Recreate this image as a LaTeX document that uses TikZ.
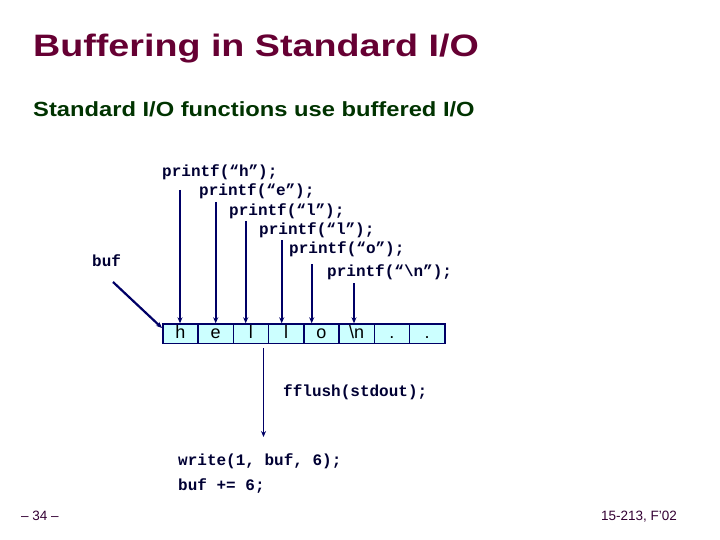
\documentclass[tikz,border=0pt]{standalone}
\usepackage{fontspec}
\setmainfont{Liberation Sans}
\newfontfamily\codefont{Liberation Mono}
\usetikzlibrary{arrows.meta}
\definecolor{titlecol}{HTML}{660033}
\definecolor{subcol}{HTML}{003300}
\definecolor{navy}{HTML}{000066}
\definecolor{codecol}{HTML}{000033}
\definecolor{cellfill}{HTML}{CCFFFF}
\definecolor{footcol}{HTML}{330033}
\tikzset{
  code/.style={anchor=base west, inner sep=0pt, text=codecol, font=\codefont\bfseries\fontsize{16}{18}\selectfont},
  arr/.style={draw=navy, line width=1.6pt, -{Stealth[length=6pt,width=5pt]}},
  cell/.style={draw=navy, line width=1.5pt, fill=cellfill, minimum width=35.25pt, minimum height=19.5pt, inner sep=0pt, anchor=north west, text height=12pt, text depth=2pt, font=\fontsize{18}{18}\selectfont},
  foot/.style={anchor=base west, inner sep=0pt, text=footcol, font=\fontsize{13.5}{15}\selectfont}
}
\begin{document}
\begin{tikzpicture}[x=1pt,y=-1pt]
\useasboundingbox (0,0) rectangle (720,540);
\node[anchor=base west, inner sep=0pt, text=titlecol, font=\bfseries\fontsize{31}{34}\selectfont] (title) at (33,57) {\scalebox{1.215}[1]{Buffering in Standard I/O}};
\node[anchor=base west, inner sep=0pt, text=subcol, font=\bfseries\fontsize{20.5}{24}\selectfont] (sub) at (33,117) {\scalebox{1.157}[1]{Standard I/O functions use buffered I/O}};
% code labels
\node[code] (p1) at (162,177) {printf(“h”);};
\node[code] (p2) at (199,196) {printf(“e”);};
\node[code] (p3) at (229,215) {printf(“l”);};
\node[code] (p4) at (259,234) {printf(“l”);};
\node[code] (p5) at (289,253) {printf(“o”);};
\node[code] (p6) at (327,276) {printf(“\textbackslash n”);};
\node[code] (buf) at (92,266) {buf};
% buffer cells
\foreach \i/\t in {0/h,1/e,2/l,3/l,4/o,5/\textbackslash n,6/.,7/.}{
  \node[cell] (c\i) at (162+35.25*\i,323.3) {\t};
}
% arrow coordinates
\coordinate (a1) at (180,190);
\coordinate (a2) at (215.7,202);
\coordinate (a3) at (245.7,221);
\coordinate (a4) at (281.7,240);
\coordinate (a5) at (311.7,264);
\coordinate (a6) at (354,283);
\foreach \i/\x in {1/180,2/215.7,3/245.7,4/281.7,5/311.7,6/354}{
  \coordinate (t\i) at (\x,323.3);
  \draw[arr] (a\i) -- (t\i);
}
\coordinate (bs) at (113,282);
\coordinate (be) at (162,328);
\draw[arr, line width=2.2pt] (bs) -- (be);
% flush
\node[code] (fl) at (283,396) {fflush(stdout);};
\coordinate (fs) at (263.5,348);
\coordinate (fe) at (263.5,437);
\draw[arr] (fs) -- (fe);
\node[code] (w1) at (178,465) {write(1, buf, 6);};
\node[code] (w2) at (178,490) {buf += 6;};
% footer
\node[foot] (pg) at (21,520) {– 34 –};
\node[foot, anchor=base east] (crs) at (677,520) {15-213, F’02};
\end{tikzpicture}
\end{document}
